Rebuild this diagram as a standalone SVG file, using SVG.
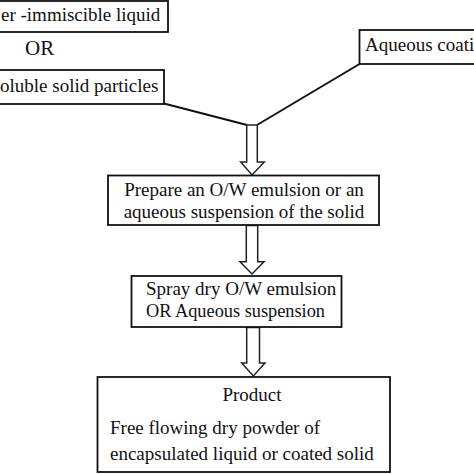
<svg xmlns="http://www.w3.org/2000/svg" width="474" height="474" viewBox="0 0 474 474">
<style>
.box{fill:#fff;stroke:#111;stroke-width:1.8}
.t{font-family:"Liberation Serif","Times New Roman",serif;font-size:19px;fill:#111}
.c{text-anchor:middle}
.ln{fill:none;stroke:#111;stroke-width:2}
.arr{fill:#fff;stroke:#222;stroke-width:1.5;stroke-linejoin:miter}
</style>
<rect width="474" height="474" fill="#fff"/>
<g id="connectors">
<polyline class="ln" points="164,103.5 247,125"/>
<polyline class="ln" points="359.5,64 257,125"/>
<path class="arr" d="M246.7,125 H257.3 V162 H264.3 L252,175 L240.7,162 H246.7 Z"/>
<path class="arr" d="M246.3,225.5 H257.7 V261.7 H264 L252,274 L240,261.7 H246.3 Z"/>
<path class="arr" d="M246.7,327.5 H259.5 V363 H265 L253.3,376 L241.7,363 H246.7 Z"/>
</g>
<g id="node-liquid">
<rect class="box" x="-4" y="1" width="172" height="31"/>
<text class="t" x="1" y="21">er -immiscible liquid</text>
</g>
<g id="node-or">
<text class="t" x="25" y="55" style="font-size:21px">OR</text>
</g>
<g id="node-solid">
<rect class="box" x="-4" y="70" width="168" height="34"/>
<text class="t" x="0" y="92">oluble solid particles</text>
</g>
<g id="node-coating">
<rect class="box" x="359.5" y="30" width="120" height="34"/>
<text class="t" x="365" y="51">Aqueous coatin</text>
</g>
<g id="node-prepare">
<rect class="box" x="108" y="175.5" width="271" height="49.5"/>
<text class="t c" x="244" y="196">Prepare an O/W emulsion or an</text>
<text class="t c" x="244" y="217.5">aqueous suspension of the solid</text>
</g>
<g id="node-spray">
<rect class="box" x="131.5" y="276" width="210" height="51"/>
<text class="t" x="146" y="294.5">Spray dry O/W emulsion</text>
<text class="t" x="146" y="317" textLength="179" lengthAdjust="spacingAndGlyphs">OR Aqueous suspension</text>
</g>
<g id="node-product">
<rect class="box" x="97.5" y="377" width="292.5" height="95"/>
<text class="t c" x="252" y="400.5">Product</text>
<text class="t" x="110" y="434">Free flowing dry powder of</text>
<text class="t" x="110" y="460">encapsulated liquid or coated solid</text>
</g>
</svg>
